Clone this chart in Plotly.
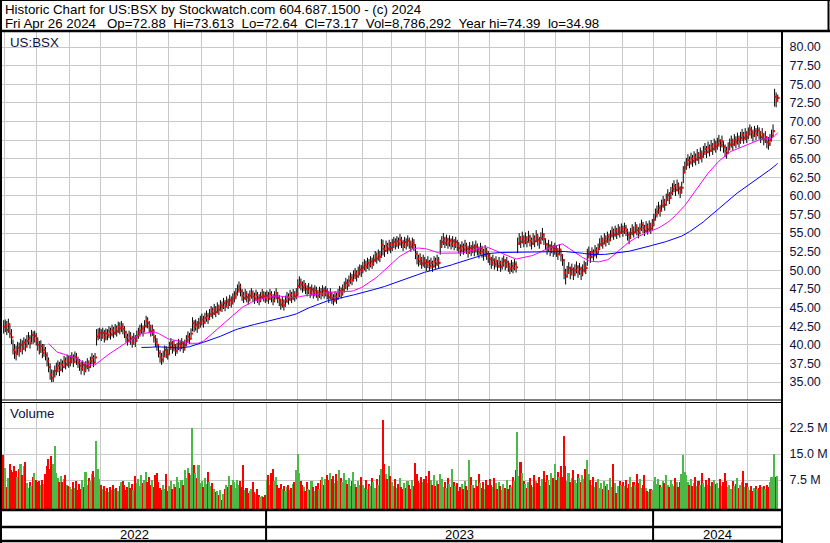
import numpy as np
import pandas as pd
import plotly.graph_objects as go

# ---------------- data ----------------
market_holidays = ["2022-05-30", "2022-06-20", "2022-07-04", "2022-09-05", "2022-11-24", "2022-12-26",
                   "2023-01-02", "2023-01-16", "2023-02-20", "2023-04-07", "2023-05-29", "2023-06-19",
                   "2023-07-04", "2023-09-04", "2023-11-23", "2023-12-25",
                   "2024-01-01", "2024-01-15", "2024-02-19", "2024-03-29"]
first_day = "2022-04-29"
last_day = "2024-04-26"

close = [
    42.4,
    42.6, 42.0, 42.8, 41.5, 41.0, 39.3, 39.0, 38.8, 39.6, 39.2, 40.0, 39.5, 40.3, 39.8, 40.5, 40.9, 40.2, 41.3, 40.8, 41.2, 40.6,
    40.0, 39.4, 39.8, 38.9, 39.3, 38.6, 37.8, 37.0, 36.0, 35.5, 35.8, 36.5, 36.8, 37.2, 36.6, 37.4, 37.0, 37.8, 37.4, 38.0, 37.6,
    37.9, 38.3, 37.7, 38.4, 38.0, 37.6, 37.2, 36.8, 37.3, 36.6, 37.1, 37.5, 37.0, 37.8, 38.2, 37.6, 38.3, 41.1, 41.4, 41.6,
    41.2, 41.6, 41.0, 41.5, 41.3, 41.8, 41.4, 42.0, 41.6, 42.1, 41.8, 42.4, 42.2, 42.5, 42.1, 41.7, 41.0, 40.6, 41.2, 40.8, 40.3, 40.9, 40.5,
    41.2, 41.6, 41.9, 42.2, 41.8, 42.5, 43.2, 42.9, 42.4, 41.8, 42.0, 41.0, 40.4, 40.0, 38.9, 38.3, 38.0, 38.5, 39.3, 38.9, 38.7,
    39.7, 40.2, 39.5, 39.9, 39.2, 39.6, 40.1, 39.8, 40.2, 39.6, 40.0, 40.6, 41.1, 40.8, 41.5, 42.9, 42.4, 42.7, 42.3, 42.9, 43.1,
    43.4, 43.0, 43.6, 43.9, 43.5, 44.1, 44.5, 44.2, 44.8, 44.4, 45.0, 44.7, 45.3, 45.1, 45.6, 45.2, 45.8, 45.5, 46.0, 45.7, 46.2,
    46.5, 46.9, 47.4, 47.8, 47.2, 46.6, 46.3, 46.8, 46.4, 46.1, 46.6, 46.9, 46.5, 46.2, 46.7, 46.3, 46.0, 46.4, 46.8, 46.5, 46.3,
    46.6, 46.2, 46.8, 46.4, 46.0, 46.5, 46.9, 46.3, 45.9, 45.4, 45.8, 45.3, 45.9, 46.4, 46.1, 46.7, 46.3, 46.8, 46.5, 46.9,
    47.9, 48.4, 48.1, 47.7, 48.0, 47.5, 47.2, 47.6, 47.0, 47.4, 46.9, 47.3, 47.0, 46.6, 47.1, 46.8, 47.3, 46.9, 47.2,
    46.8, 46.4, 46.9, 46.3, 46.0, 46.5, 46.2, 46.8, 47.2, 46.9, 47.4, 47.8, 48.3, 48.0, 48.6, 49.0, 48.7, 49.3, 49.6, 49.2, 49.8, 50.1, 49.9,
    50.4, 50.8, 50.5, 51.0, 50.7, 51.2, 50.9, 51.4, 51.9, 51.6, 52.1, 51.8, 53.4, 52.9, 52.6, 53.3, 52.9, 53.4, 53.0,
    53.4, 53.8, 53.5, 53.9, 53.6, 54.1, 53.7, 53.3, 53.8, 53.5, 54.0, 53.6, 53.2, 53.7, 53.4, 52.2, 51.6, 51.2, 51.5, 50.9, 51.3, 51.0,
    50.7, 51.1, 50.6, 51.0, 50.5, 51.2, 50.9, 51.4, 51.0, 53.3, 53.8, 54.2, 53.7, 54.1, 53.6, 54.0, 53.5, 53.9, 53.4, 53.8, 53.3,
    53.0, 52.7, 53.2, 52.8, 53.3, 52.9, 52.5, 53.0, 52.6, 53.1, 52.7, 53.2, 52.8, 52.4, 52.9, 52.5, 52.1, 52.6, 52.2, 51.8,
    51.5, 51.0, 51.4, 50.8, 51.2, 50.6, 51.0, 50.5, 50.9, 51.3, 50.7, 51.1, 50.5, 50.2, 50.6, 50.3, 50.8, 50.4, 53.6, 54.2, 53.8, 54.4, 53.9,
    54.3, 53.8, 54.5, 54.0, 53.6, 54.2, 53.9, 54.6, 54.1, 53.7, 54.3, 54.8, 54.2, 53.5, 52.9, 53.3, 52.7, 53.1, 52.6, 52.9,
    52.6, 52.2, 52.8, 52.0, 51.4, 49.7, 49.2, 49.8, 50.3, 49.6, 50.1, 49.5, 50.0, 50.4, 49.8, 50.2, 49.6, 50.0, 50.5, 50.3, 52.0, 52.4,
    51.8, 52.4, 52.0, 52.7, 52.3, 52.9, 53.5, 54.0, 53.6, 54.3, 53.9, 54.5, 54.1, 54.7, 55.2, 54.8, 55.3, 54.9, 55.5, 55.1, 55.6,
    55.2, 55.7, 55.3, 54.8, 54.4, 55.0, 55.5, 55.1, 55.8, 55.4, 55.0, 55.6, 56.1, 55.7, 55.3, 55.9, 55.5, 56.0, 55.6, 56.2,
    56.8, 57.5, 57.9, 58.4, 58.0, 58.7, 59.2, 58.8, 59.5, 60.1, 59.7, 60.4, 60.9, 61.3, 60.8, 61.4, 61.0, 60.5, 61.1, 63.2, 63.8,
    64.3, 64.8, 64.5, 65.0, 64.7, 65.2, 64.9, 65.5, 65.1, 65.7, 65.3, 65.9, 66.3, 65.9, 66.5, 66.1, 66.7, 66.3, 66.9, 66.6,
    67.0, 67.4, 66.8, 67.3, 66.6, 66.0, 65.8, 66.4, 66.9, 67.3, 66.9, 67.5, 67.2, 67.7, 67.3, 67.8, 68.2, 67.8, 68.3, 67.9,
    68.4, 68.9, 68.5, 68.1, 68.7, 68.3, 68.8, 68.4, 67.9, 68.3, 67.6, 67.9, 67.2, 67.0, 67.5, 68.1, 68.7, 73.3, 72.8, 73.17,
]

high = [
    43.3,
    43.4, 43.2, 43.5, 42.7, 42.1, 40.7, 40.1, 39.9, 40.4, 40.3, 40.8, 40.6, 41.0, 40.8, 41.3, 41.7, 41.3, 42.0, 41.8, 41.9, 41.6,
    41.0, 40.5, 40.6, 40.1, 40.1, 39.7, 39.0, 38.3, 37.5, 36.7, 36.6, 37.2, 37.6, 37.9, 37.7, 38.1, 37.9, 38.5, 38.3, 38.7, 38.5,
    38.6, 39.0, 38.7, 39.1, 38.9, 38.4, 38.1, 37.7, 37.9, 37.5, 37.8, 38.2, 37.9, 38.4, 38.9, 38.6, 38.9, 42.1, 42.2, 42.3,
    42.1, 42.3, 42.0, 42.2, 42.1, 42.5, 42.3, 42.7, 42.4, 42.8, 42.6, 43.1, 43.0, 43.2, 42.9, 42.5, 41.9, 41.5, 41.9, 41.7, 41.2, 41.6, 41.3,
    41.9, 42.3, 42.7, 42.9, 42.6, 43.3, 43.9, 43.7, 43.2, 42.7, 42.7, 42.0, 41.3, 40.9, 40.1, 39.3, 38.9, 39.2, 39.9, 39.8, 39.5,
    40.4, 40.9, 40.5, 40.6, 40.1, 40.3, 40.8, 40.6, 40.9, 40.4, 40.7, 41.3, 41.8, 41.6, 42.2, 43.7, 43.3, 43.4, 43.2, 43.6, 43.9,
    44.2, 43.9, 44.3, 44.6, 44.3, 44.8, 45.2, 45.0, 45.5, 45.2, 45.7, 45.4, 46.0, 45.8, 46.3, 46.0, 46.5, 46.2, 46.7, 46.5, 46.9,
    47.2, 47.6, 48.1, 48.5, 48.2, 47.5, 47.1, 47.5, 47.2, 46.9, 47.3, 47.6, 47.3, 47.0, 47.4, 47.1, 46.8, 47.1, 47.5, 47.2, 47.1,
    47.3, 47.1, 47.5, 47.2, 46.8, 47.2, 47.6, 47.1, 46.7, 46.2, 46.5, 46.1, 46.6, 47.1, 46.9, 47.4, 47.1, 47.5, 47.2, 47.6,
    48.8, 49.2, 48.9, 48.5, 48.7, 48.3, 48.0, 48.3, 47.8, 48.1, 47.7, 48.0, 47.8, 47.4, 47.8, 47.6, 48.0, 47.7, 47.9,
    47.6, 47.2, 47.6, 47.1, 46.8, 47.2, 47.0, 47.5, 47.9, 47.7, 48.1, 48.5, 49.0, 48.8, 49.3, 49.7, 49.5, 50.0, 50.3, 50.0, 50.5, 50.8, 50.7,
    51.1, 51.5, 51.3, 51.7, 51.5, 51.9, 51.7, 52.1, 52.6, 52.4, 52.8, 52.6, 54.2, 54.1, 53.4, 54.0, 53.7, 54.1, 53.8,
    54.2, 54.5, 54.3, 54.6, 54.4, 54.9, 54.5, 54.1, 54.5, 54.3, 54.7, 54.4, 54.0, 54.4, 54.2, 53.5, 52.6, 52.1, 52.3, 51.8, 52.1, 51.8,
    51.5, 51.9, 51.4, 51.7, 51.3, 51.9, 51.7, 52.1, 51.8, 54.1, 54.6, 55.0, 54.5, 54.8, 54.4, 54.7, 54.3, 54.6, 54.2, 54.5, 54.1,
    53.8, 53.5, 53.9, 53.6, 54.1, 53.7, 53.3, 53.8, 53.4, 53.9, 53.5, 54.0, 53.6, 53.2, 53.7, 53.3, 52.9, 53.4, 53.0, 52.6,
    52.3, 51.8, 52.1, 51.6, 51.9, 51.4, 51.8, 51.3, 51.7, 52.0, 51.5, 51.8, 51.3, 51.0, 51.4, 51.1, 51.5, 51.2, 54.4, 55.0, 54.6, 55.2, 54.7,
    55.1, 54.6, 55.3, 54.8, 54.4, 55.0, 54.7, 55.4, 54.9, 54.5, 55.1, 55.7, 55.0, 54.3, 53.7, 54.1, 53.5, 53.9, 53.4, 53.7,
    53.4, 53.0, 53.5, 52.8, 52.2, 51.5, 50.2, 50.6, 51.1, 50.5, 50.9, 50.4, 50.8, 51.2, 50.7, 51.0, 50.5, 50.8, 51.3, 51.1, 52.9, 53.2,
    52.6, 53.1, 52.8, 53.4, 53.1, 53.6, 54.3, 54.7, 54.4, 55.0, 54.7, 55.2, 54.9, 55.4, 55.9, 55.6, 56.0, 55.7, 56.2, 55.9, 56.3,
    56.0, 56.4, 56.1, 55.6, 55.2, 55.7, 56.2, 55.9, 56.5, 56.2, 55.8, 56.3, 56.8, 56.5, 56.1, 56.6, 56.3, 56.7, 56.4, 56.9,
    57.6, 58.3, 58.7, 59.2, 58.8, 59.5, 60.0, 59.6, 60.3, 60.9, 60.5, 61.2, 61.7, 62.1, 61.6, 62.2, 61.8, 61.3, 61.9, 64.0, 64.6,
    65.1, 65.6, 65.3, 65.8, 65.5, 66.0, 65.7, 66.3, 65.9, 66.5, 66.1, 66.7, 67.1, 66.7, 67.3, 66.9, 67.5, 67.1, 67.7, 67.4,
    67.8, 68.2, 67.6, 68.1, 67.4, 66.9, 66.6, 67.2, 67.7, 68.1, 67.7, 68.3, 68.0, 68.5, 68.1, 68.6, 69.0, 68.6, 69.1, 68.7,
    69.2, 69.6, 69.3, 68.9, 69.4, 69.1, 69.5, 69.2, 68.7, 69.1, 68.4, 68.7, 68.0, 67.9, 68.3, 68.9, 69.6, 74.39, 73.9, 73.613,
]

low = [
    41.5,
    41.7, 41.3, 41.6, 40.9, 40.1, 38.7, 38.1, 37.9, 38.6, 38.4, 39.0, 38.7, 39.3, 39.1, 39.6, 40.0, 39.5, 40.3, 40.1, 40.3, 39.9,
    39.2, 38.7, 38.9, 38.2, 38.4, 37.9, 37.1, 36.3, 35.3, 34.98, 35.0, 35.6, 35.9, 36.3, 35.8, 36.5, 36.3, 36.9, 36.7, 37.1, 36.9,
    37.1, 37.5, 37.0, 37.6, 37.3, 36.9, 36.5, 36.0, 36.5, 35.9, 36.3, 36.7, 36.4, 36.9, 37.4, 37.0, 37.5, 39.9, 40.6, 40.8,
    40.5, 40.8, 40.3, 40.6, 40.6, 40.9, 40.7, 41.1, 40.9, 41.3, 41.1, 41.6, 41.4, 41.7, 41.4, 40.9, 40.3, 39.9, 40.3, 40.0, 39.6, 40.0, 39.7,
    40.4, 40.8, 41.1, 41.5, 41.1, 41.7, 42.3, 42.2, 41.6, 41.1, 41.2, 40.3, 39.7, 39.2, 38.3, 37.6, 37.3, 37.6, 38.3, 38.2, 38.0,
    38.7, 39.3, 38.8, 39.1, 38.5, 38.8, 39.3, 39.1, 39.4, 38.9, 39.2, 39.8, 40.3, 40.1, 40.7, 41.8, 41.7, 41.9, 41.6, 42.1, 42.3,
    42.6, 42.3, 42.8, 43.1, 42.8, 43.3, 43.7, 43.5, 44.0, 43.7, 44.2, 44.0, 44.5, 44.4, 44.8, 44.5, 45.0, 44.8, 45.2, 45.0, 45.4,
    45.7, 46.1, 46.6, 47.0, 46.5, 45.9, 45.6, 46.0, 45.7, 45.4, 45.8, 46.2, 45.8, 45.5, 45.9, 45.6, 45.3, 45.7, 46.1, 45.8, 45.6,
    45.8, 45.5, 46.0, 45.7, 45.3, 45.7, 46.1, 45.6, 45.2, 44.7, 45.0, 44.6, 45.1, 45.6, 45.4, 45.9, 45.6, 46.0, 45.8, 46.1,
    46.5, 47.6, 47.3, 47.0, 47.2, 46.8, 46.5, 46.8, 46.3, 46.6, 46.2, 46.5, 46.3, 45.9, 46.3, 46.1, 46.5, 46.2, 46.5,
    46.1, 45.6, 46.1, 45.5, 45.3, 45.7, 45.5, 46.0, 46.4, 46.2, 46.6, 47.0, 47.5, 47.3, 47.8, 48.2, 48.0, 48.5, 48.8, 48.5, 49.0, 49.3, 49.1,
    49.6, 50.0, 49.8, 50.2, 50.0, 50.4, 50.2, 50.6, 51.1, 50.9, 51.3, 51.1, 51.7, 52.0, 51.8, 52.5, 52.2, 52.6, 52.3,
    52.6, 53.0, 52.8, 53.1, 52.9, 53.3, 53.0, 52.6, 53.0, 52.8, 53.2, 52.9, 52.5, 52.9, 52.6, 51.5, 50.8, 50.5, 50.7, 50.2, 50.5, 50.3,
    49.9, 50.3, 49.9, 50.2, 49.8, 50.4, 50.2, 50.6, 50.3, 52.1, 53.0, 53.4, 53.0, 53.3, 52.9, 53.2, 52.8, 53.1, 52.7, 53.0, 52.6,
    52.3, 51.9, 52.4, 52.1, 52.5, 52.2, 51.7, 52.2, 51.9, 52.3, 51.9, 52.4, 52.0, 51.6, 52.1, 51.7, 51.3, 51.8, 51.4, 51.0,
    50.7, 50.2, 50.6, 50.1, 50.4, 49.9, 50.3, 49.8, 50.1, 50.5, 50.0, 50.3, 49.8, 49.5, 49.8, 49.6, 50.0, 49.7, 52.3, 53.4, 53.0, 53.6, 53.1,
    53.5, 53.1, 53.7, 53.2, 52.8, 53.4, 53.1, 53.8, 53.3, 52.9, 53.5, 54.0, 53.4, 52.7, 52.1, 52.5, 51.9, 52.3, 51.8, 52.1,
    51.8, 51.4, 52.0, 51.2, 50.6, 48.8, 48.1, 49.0, 49.5, 48.8, 49.3, 48.7, 49.2, 49.6, 49.0, 49.4, 48.7, 49.2, 49.7, 49.5, 50.6, 51.6,
    51.0, 51.6, 51.3, 51.9, 51.6, 52.1, 52.7, 53.2, 52.9, 53.5, 53.2, 53.7, 53.4, 53.9, 54.4, 54.1, 54.5, 54.2, 54.7, 54.4, 54.9,
    54.5, 54.9, 54.6, 54.0, 53.5, 54.2, 54.7, 54.4, 55.0, 54.7, 54.3, 54.8, 55.3, 55.0, 54.6, 55.1, 54.8, 55.2, 54.9, 55.4,
    55.9, 56.7, 57.1, 57.6, 57.2, 57.9, 58.4, 58.0, 58.7, 59.3, 58.9, 59.6, 60.1, 60.5, 60.0, 60.6, 60.2, 59.7, 60.3, 61.7, 63.0,
    63.5, 64.0, 63.7, 64.2, 63.9, 64.4, 64.1, 64.7, 64.3, 64.9, 64.5, 65.1, 65.5, 65.1, 65.7, 65.3, 65.9, 65.5, 66.1, 65.8,
    66.2, 66.6, 66.0, 66.5, 65.8, 65.2, 65.0, 65.6, 66.1, 66.5, 66.1, 66.7, 66.4, 66.9, 66.5, 67.0, 67.4, 67.0, 67.5, 67.1,
    67.6, 68.1, 67.7, 67.3, 67.9, 67.5, 68.0, 67.6, 67.1, 67.5, 66.8, 67.1, 66.4, 66.2, 66.7, 67.3, 67.9, 72.0, 71.9, 72.64,
]

volume_m = [
    14.7,
    11.0, 5.5, 8.0, 12.0, 10.5, 9.8, 11.5, 10.2, 8.4, 10.6, 12.2, 9.0, 11.6, 12.8, 6.5, 5.2, 7.0, 5.8, 8.5, 9.6, 7.4,
    6.8, 7.2, 6.1, 7.5, 6.4, 9.2, 11.5, 13.6, 10.8, 14.5, 12.0, 17.4, 9.5, 8.2, 7.0, 8.6, 6.9, 7.8, 9.0, 6.2, 5.8,
    5.6, 4.8, 6.9, 5.2, 7.1, 4.6, 6.3, 5.0, 7.4, 5.5, 9.7, 6.2, 8.0, 7.2, 9.3, 10.1, 8.5, 18.7, 10.6, 7.8,
    6.0, 4.9, 5.8, 4.4, 5.2, 4.1, 5.6, 4.5, 6.2, 4.8, 5.3, 4.2, 5.9, 6.8, 7.3, 6.1, 4.7, 5.5, 7.0, 5.1, 6.4, 4.6, 8.7,
    6.5, 7.8, 5.9, 8.9, 6.7, 7.4, 9.8, 6.9, 8.3, 6.0, 7.6, 5.4, 8.8, 9.4, 7.0, 5.2, 4.5, 6.1, 5.0, 9.2, 4.3,
    5.8, 7.1, 4.9, 6.3, 5.5, 8.4, 6.8, 5.2, 7.5, 6.0, 10.5, 8.2, 11.0, 9.6, 8.8, 22.5, 11.7, 9.4, 8.0, 11.7, 6.5,
    7.2, 5.6, 8.1, 6.4, 9.7, 7.0, 5.9, 6.6, 4.8, 3.9, 4.4, 3.2, 4.6, 1.8, 3.5, 4.9, 6.2, 5.4, 8.6, 6.0, 7.4,
    6.8, 5.3, 7.6, 6.1, 7.2, 5.5, 11.8, 4.6, 5.2, 3.8, 4.4, 5.0, 6.9, 4.1, 3.6, 4.8, 3.3, 2.6, 3.0, 2.5, 3.2,
    7.4, 8.8, 6.2, 9.6, 10.8, 7.1, 8.3, 6.0, 5.3, 6.4, 4.8, 5.9, 4.2, 5.6, 6.1, 4.5, 5.2, 6.4, 7.0, 10.4,
    15.0, 9.5, 7.3, 6.0, 5.4, 4.3, 6.8, 5.0, 4.6, 7.1, 5.5, 4.2, 5.8, 6.5, 4.9, 7.6, 8.3, 6.2, 7.8,
    8.8, 7.4, 9.5, 7.9, 8.6, 6.7, 9.1, 7.2, 10.4, 8.1, 6.9, 9.6, 7.5, 6.3, 8.0, 5.7, 7.2, 9.9, 6.4, 5.5, 7.1, 6.0, 8.5,
    6.2, 5.1, 7.5, 4.8, 6.4, 5.7, 8.2, 6.9, 5.3, 7.7, 6.0, 9.0, 10.6, 24.8, 12.0, 9.2, 7.8, 11.4, 8.6,
    6.8, 5.9, 7.7, 5.2, 6.3, 8.1, 5.6, 4.9, 6.6, 5.3, 7.2, 6.0, 4.8, 7.5, 5.8, 12.4, 9.1, 7.3, 6.5, 8.4, 6.9, 7.8,
    8.6, 6.7, 10.2, 7.4, 6.1, 8.8, 5.9, 7.1, 6.4, 9.3, 7.8, 5.6, 6.9, 5.1, 8.0, 6.3, 5.4, 10.8, 7.0, 5.8, 6.6,
    4.2, 5.5, 6.4, 5.0, 7.2, 5.9, 4.7, 13.2, 8.4, 6.1, 5.3, 7.6, 5.8, 9.2, 6.5, 5.1, 6.8, 4.9, 7.4, 6.0,
    7.8, 6.2, 5.4, 8.1, 6.6, 5.0, 7.0, 5.7, 4.6, 6.3, 5.2, 7.5, 4.8, 6.0, 5.5, 8.4, 7.1, 10.5, 21.3, 8.7, 12.6, 9.4, 7.2,
    6.4, 5.3, 7.0, 8.2, 6.1, 5.5, 9.0, 7.3, 6.7, 8.4, 5.9, 7.7, 10.2, 6.8, 8.9, 7.4, 6.2, 9.5, 8.0, 12.1,
    7.6, 9.8, 8.4, 11.6, 8.5, 20.1, 11.4, 7.2, 9.6, 6.8, 8.0, 10.4, 7.5, 6.6, 9.1, 8.2, 7.0, 8.8, 7.9, 10.7, 13.4, 9.3,
    7.4, 6.0, 8.3, 5.5, 6.9, 7.8, 5.2, 6.5, 4.9, 7.1, 5.8, 6.3, 4.6, 8.0, 5.4, 12.0, 6.7, 3.8, 5.9, 7.3, 6.1,
    6.8, 5.7, 7.5, 5.1, 6.3, 8.4, 5.6, 7.0, 6.2, 9.1, 6.6, 7.9, 5.3, 6.0, 8.8, 5.2, 4.4, 3.9, 5.0, 4.6,
    7.2, 8.5, 6.4, 7.8, 6.0, 5.6, 7.3, 6.7, 8.9, 6.1, 5.4, 7.6, 6.3, 5.9, 8.1, 6.8, 5.5, 7.0, 9.2, 14.7, 9.8,
    8.8, 7.0, 6.2, 7.7, 5.8, 6.5, 8.3, 5.9, 7.2, 6.0, 9.6, 6.7, 5.5, 7.4, 6.1, 8.0, 5.7, 6.9, 7.5, 6.3,
    6.6, 5.2, 7.8, 5.9, 6.8, 9.4, 7.1, 5.5, 6.2, 4.9, 7.3, 5.7, 6.4, 8.2, 5.3, 6.0, 7.0, 10.1, 5.6, 6.5,
    5.4, 4.6, 5.9, 4.3, 5.1, 5.7, 4.8, 5.3, 6.0, 5.5, 5.8, 4.9, 6.1, 5.6, 7.0, 8.3, 8.5, 15.0, 8.5, 8.79,
]

price_ticks = [35.0, 37.5, 40.0, 42.5, 45.0, 47.5, 50.0, 52.5, 55.0, 57.5,
               60.0, 62.5, 65.0, 67.5, 70.0, 72.5, 75.0, 77.5, 80.0]
volume_ticks = [7.5e6, 15.0e6, 22.5e6]
volume_tick_labels = ["7.5 M", "15.0 M", "22.5 M"]
ma_fast_days = 30
ma_slow_days = 90

title_line1 = "Historic Chart for US:BSX by Stockwatch.com 604.687.1500 - (c) 2024"
title_line2_parts = ["Fri Apr 26 2024\u00a0", "Op=72.88", "Hi=73.613", "Lo=72.64",
                     "Cl=73.17", "Vol=8,786,292", "Year hi=74.39", "lo=34.98"]
symbol_label = "US:BSX"
volume_label = "Volume"

# ---------------- derived ----------------
dates = pd.bdate_range(first_day, last_day, freq="C", holidays=market_holidays)
n = len(dates)
assert n == len(close) == len(high) == len(low) == len(volume_m), (n, len(close), len(high), len(low), len(volume_m))
idx = np.arange(n)
close_s = pd.Series(close)
ma_fast = close_s.rolling(ma_fast_days).mean()
ma_slow = close_s.rolling(ma_slow_days).mean()
vol = np.array(volume_m) * 1e6

vcol = []
for i in range(n):
    if i == 0 or close[i] < close[i - 1]:
        vcol.append("#ff0000")
    elif close[i] > close[i - 1]:
        vcol.append("#4cb848")
    else:
        vcol.append("#a8a8a8")

months = pd.Series(dates.to_period("M"))
month_starts = [i for i in range(1, n) if months[i] != months[i - 1]]
grid_x = [i - 0.5 for i in month_starts]
years = pd.Series(dates.year)
year_starts = [i for i in range(1, n) if years[i] != years[i - 1]]

# ---------------- geometry ----------------
W, H = 830, 543
ML, MR, MT, MB = 2, 48, 31, 2
PW = W - ML - MR
PH = H - MT - MB
px_per_day = 1.548
x0 = -1.1
x1 = x0 + PW / px_per_day


def py(p):  # pixel y -> paper y
    return (H - MB - p) / PH


def pxp(p):  # pixel x -> paper x
    return (p - ML) / PW


price_dom = [py(400), 1.0]
vol_dom = [py(510), py(403)]
ppu = (382 - 47) / 45.0
p_top = 80 + (47 - 31) / ppu
p_bot = 35 - (400 - 382) / ppu
vpm = 26 / 7.5e6
v_top = (506 - 403) / vpm
v_bot = -(510 - 506) / vpm

FONT = "Liberation Sans, Arial, sans-serif"
GRID = "#c8c8c8"
LABEL = "#10103a"

fig = go.Figure()

hx, hy = [], []
for i in idx:
    hx += [i, i, None]
    hy += [low[i], high[i], None]
fig.add_trace(go.Scatter(x=hx, y=hy, mode="lines", line=dict(color="black", width=1),
                         hoverinfo="skip", xaxis="x", yaxis="y"))
fig.add_trace(go.Scatter(x=idx + 0.6, y=close, mode="markers",
                         marker=dict(symbol="square", size=2, color="#ff0000", line=dict(width=0)),
                         xaxis="x", yaxis="y"))
fig.add_trace(go.Scatter(x=idx, y=ma_fast, mode="lines", line=dict(color="#ff00ff", width=1),
                         xaxis="x", yaxis="y"))
fig.add_trace(go.Scatter(x=idx, y=ma_slow, mode="lines", line=dict(color="#0000ff", width=1),
                         xaxis="x", yaxis="y"))

fig.add_trace(go.Bar(x=idx, y=vol - v_bot, base=v_bot, width=1.0,
                     marker=dict(color=vcol, line=dict(width=0)),
                     xaxis="x2", yaxis="y2"))

xcommon = dict(range=[x0, x1], tickmode="array", tickvals=grid_x, showticklabels=False,
               showgrid=True, gridcolor=GRID, gridwidth=1, zeroline=False, showline=False, ticks="")
ycommon = dict(side="right", tickmode="array", showgrid=True, gridcolor=GRID, gridwidth=1,
               zeroline=False, showline=False, ticks="outside", ticklen=4,
               tickcolor="rgba(0,0,0,0)", automargin=False,
               tickfont=dict(family=FONT, size=12.5, color=LABEL))
fig.update_layout(
    width=W, height=H,
    margin=dict(l=ML, r=MR, t=MT, b=MB, autoexpand=False),
    paper_bgcolor="white", plot_bgcolor="white",
    showlegend=False, bargap=0,
    font=dict(family=FONT, color="black"),
    xaxis=dict(domain=[0, 1], anchor="y", **xcommon),
    xaxis2=dict(domain=[0, 1], anchor="y2", matches="x", **xcommon),
    yaxis=dict(domain=price_dom, range=[p_bot, p_top], anchor="x",
               tickvals=price_ticks, ticktext=[f"{v:.2f}" for v in price_ticks], **ycommon),
    yaxis2=dict(domain=vol_dom, range=[v_bot, v_top], anchor="x2",
                tickvals=volume_ticks, ticktext=volume_tick_labels, **ycommon),
)

shapes = []


def hline(p, xa, xb, w):
    shapes.append(dict(type="line", xref="paper", yref="paper", x0=pxp(xa), x1=pxp(xb),
                       y0=py(p), y1=py(p), line=dict(color="black", width=w)))


def vline(p, ya, yb, w):
    shapes.append(dict(type="line", xref="paper", yref="paper", x0=pxp(p), x1=pxp(p),
                       y0=py(ya), y1=py(yb), line=dict(color="black", width=w)))


hline(0.5, 0, 830, 1)
hline(31, 0, 830, 2.5)
vline(1, 0, 543, 2)
vline(828.5, 0, 31, 2)
vline(782, 31, 543, 2)
hline(400, 0, 782, 1)
hline(402.5, 0, 782, 1)
hline(510, 0, 782, 2.5)
hline(527, 0, 782, 2.5)
hline(541, 0, 782, 2.5)
for ys in year_starts:
    shapes.append(dict(type="line", xref="x", yref="paper", x0=ys - 0.5, x1=ys - 0.5,
                       y0=py(510), y1=py(541), line=dict(color="black", width=2)))
fig.update_layout(shapes=shapes)

ann = []
ann.append(dict(text=title_line1, xref="paper", yref="paper", x=pxp(3), y=py(9.5),
                xanchor="left", yanchor="middle", showarrow=False,
                font=dict(family=FONT, size=13.3, color="black")))
ann.append(dict(text="\u00a0\u00a0".join(title_line2_parts), xref="paper", yref="paper", x=pxp(3), y=py(23.5),
                xanchor="left", yanchor="middle", showarrow=False,
                font=dict(family=FONT, size=13.3, color="black")))
ann.append(dict(text=symbol_label, xref="paper", yref="paper", x=pxp(8), y=py(42),
                xanchor="left", yanchor="middle", showarrow=False,
                font=dict(family=FONT, size=13.3, color=LABEL)))
ann.append(dict(text=volume_label, xref="paper", yref="paper", x=pxp(8), y=py(413),
                xanchor="left", yanchor="middle", showarrow=False,
                font=dict(family=FONT, size=13.3, color=LABEL)))
bounds = [0] + year_starts + [n]
for k in range(len(bounds) - 1):
    a = bounds[k] - 0.5 if k > 0 else x0
    b = bounds[k + 1] - 0.5 if k < len(bounds) - 2 else x1
    ann.append(dict(text=str(dates[bounds[k]].year), xref="x", yref="paper", x=(a + b) / 2, y=py(534),
                    xanchor="center", yanchor="middle", showarrow=False,
                    font=dict(family=FONT, size=13, color="black")))
fig.update_layout(annotations=ann)

fig.write_html("out.html", config={"displayModeBar": False},
               post_script="document.body.style.margin='0px';")
